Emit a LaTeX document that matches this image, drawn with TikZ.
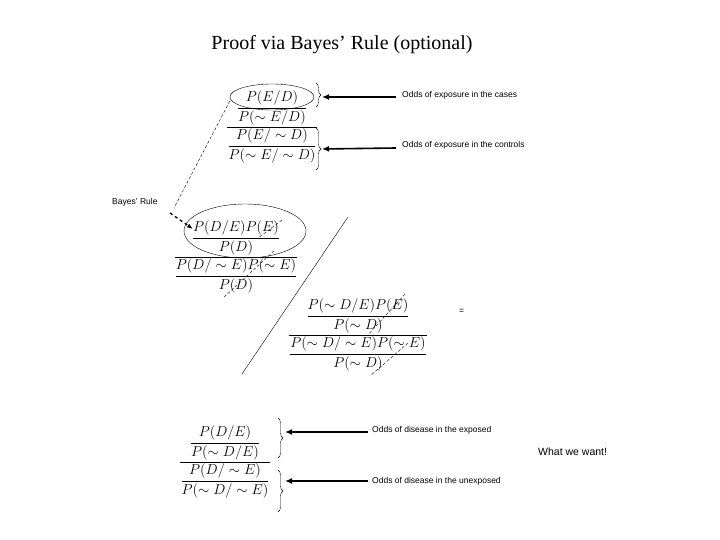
\documentclass[tikz,border=0pt]{standalone}
\usepackage{amsmath}
\usepackage{fontspec}
\setmainfont{Liberation Serif}
\newfontfamily\lab{Liberation Sans}
\usetikzlibrary{decorations.pathreplacing,arrows.meta,shapes.geometric}
\tikzset{
 frac/.style={inner sep=0pt,font=\fontsize{15}{17}\selectfont},
 lbl/.style={anchor=west,inner sep=0pt,font=\lab\fontsize{8.5}{10}\selectfont},
 brc/.style={decorate,decoration={brace,amplitude=5pt}},
 arr/.style={-{Latex[length=7pt,width=6pt]},line width=1.6pt},
 thin dash/.style={densely dashed,line width=0.4pt},
}
\begin{document}
\begin{tikzpicture}[x=1pt,y=-1pt]
\useasboundingbox (0,0) rectangle (720,540);
\node[font=\fontsize{20}{24}\selectfont] (title) at (342,45) {Proof via Bayes’ Rule (optional)};
% top fraction
\node[frac] (f1) at (272,127) {$\dfrac{\dfrac{P(E/D)}{P(\sim E/D)}}{\dfrac{P(E/\sim D)}{P(\sim E/\sim D)}}$};
\node[draw,ellipse,minimum width=84pt,minimum height=26pt] (e1) at (272,97) {};
\draw[brc] (316,83) -- (316,107);
\draw[brc] (316,128) -- (316,170);
\coordinate (b1t) at (322,97);
\coordinate (b2t) at (322,149);
\node[lbl] (l1) at (402,95) {Odds of exposure in the cases};
\node[lbl] (l2) at (402,145) {Odds of exposure in the controls};
\draw[arr] (l1.west) ++(-6,2) -- (b1t);
\draw[arr] (l2.west) ++(-6,3) -- (b2t);
% Bayes
\node[lbl] (bayes) at (112,202) {Bayes’ Rule};
\coordinate (d1) at (174,208);
\draw[thin dash] (e1.west) ++(0,4) -- (d1);
\draw[-{Latex[length=6pt]},dashed,line width=1.3pt] (170,213) -- (193,229);
% second fraction
\node[frac] (f2) at (236,257) {$\dfrac{\dfrac{P(D/E)P(E)}{P(D)}}{\dfrac{P(D/\sim E)P(\sim E)}{P(D)}}$};
\node[draw,ellipse,minimum width=122pt,minimum height=54pt] (e2) at (245,231) {};
\draw[thin dash] (282,220) -- (258,238);
\draw[thin dash] (274,251) -- (223,298);
% slash
\draw (348,217) -- (242,374);
% third fraction
\node[frac] (f3) at (358,335) {$\dfrac{\dfrac{P(\sim D/E)P(E)}{P(\sim D)}}{\dfrac{P(\sim D/\sim E)P(\sim E)}{P(\sim D)}}$};
\draw[thin dash] (405,294) -- (367,336);
\draw[thin dash] (408,343) -- (370,376);
\node[lbl] (eq) at (459,311) {=};
% bottom
\node[frac] (f4) at (225,462) {$\dfrac{\dfrac{P(D/E)}{P(\sim D/E)}}{\dfrac{P(D/\sim E)}{P(\sim D/\sim E)}}$};
\draw[brc] (278,418) -- (278,458);
\draw[brc] (278,470) -- (278,512);
\coordinate (b3t) at (285,432);
\coordinate (b4t) at (285,481);
\node[lbl] (l3) at (372,430) {Odds of disease in the exposed};
\node[lbl] (l4) at (372,481) {Odds of disease in the unexposed};
\draw[arr] (l3.west) ++(-4,2) -- (b3t);
\draw[arr] (l4.west) ++(-4,0) -- (b4t);
\node[lbl,font=\lab\fontsize{10.5}{12}\selectfont] (want) at (538,452) {What we want!};
\end{tikzpicture}
\end{document}
